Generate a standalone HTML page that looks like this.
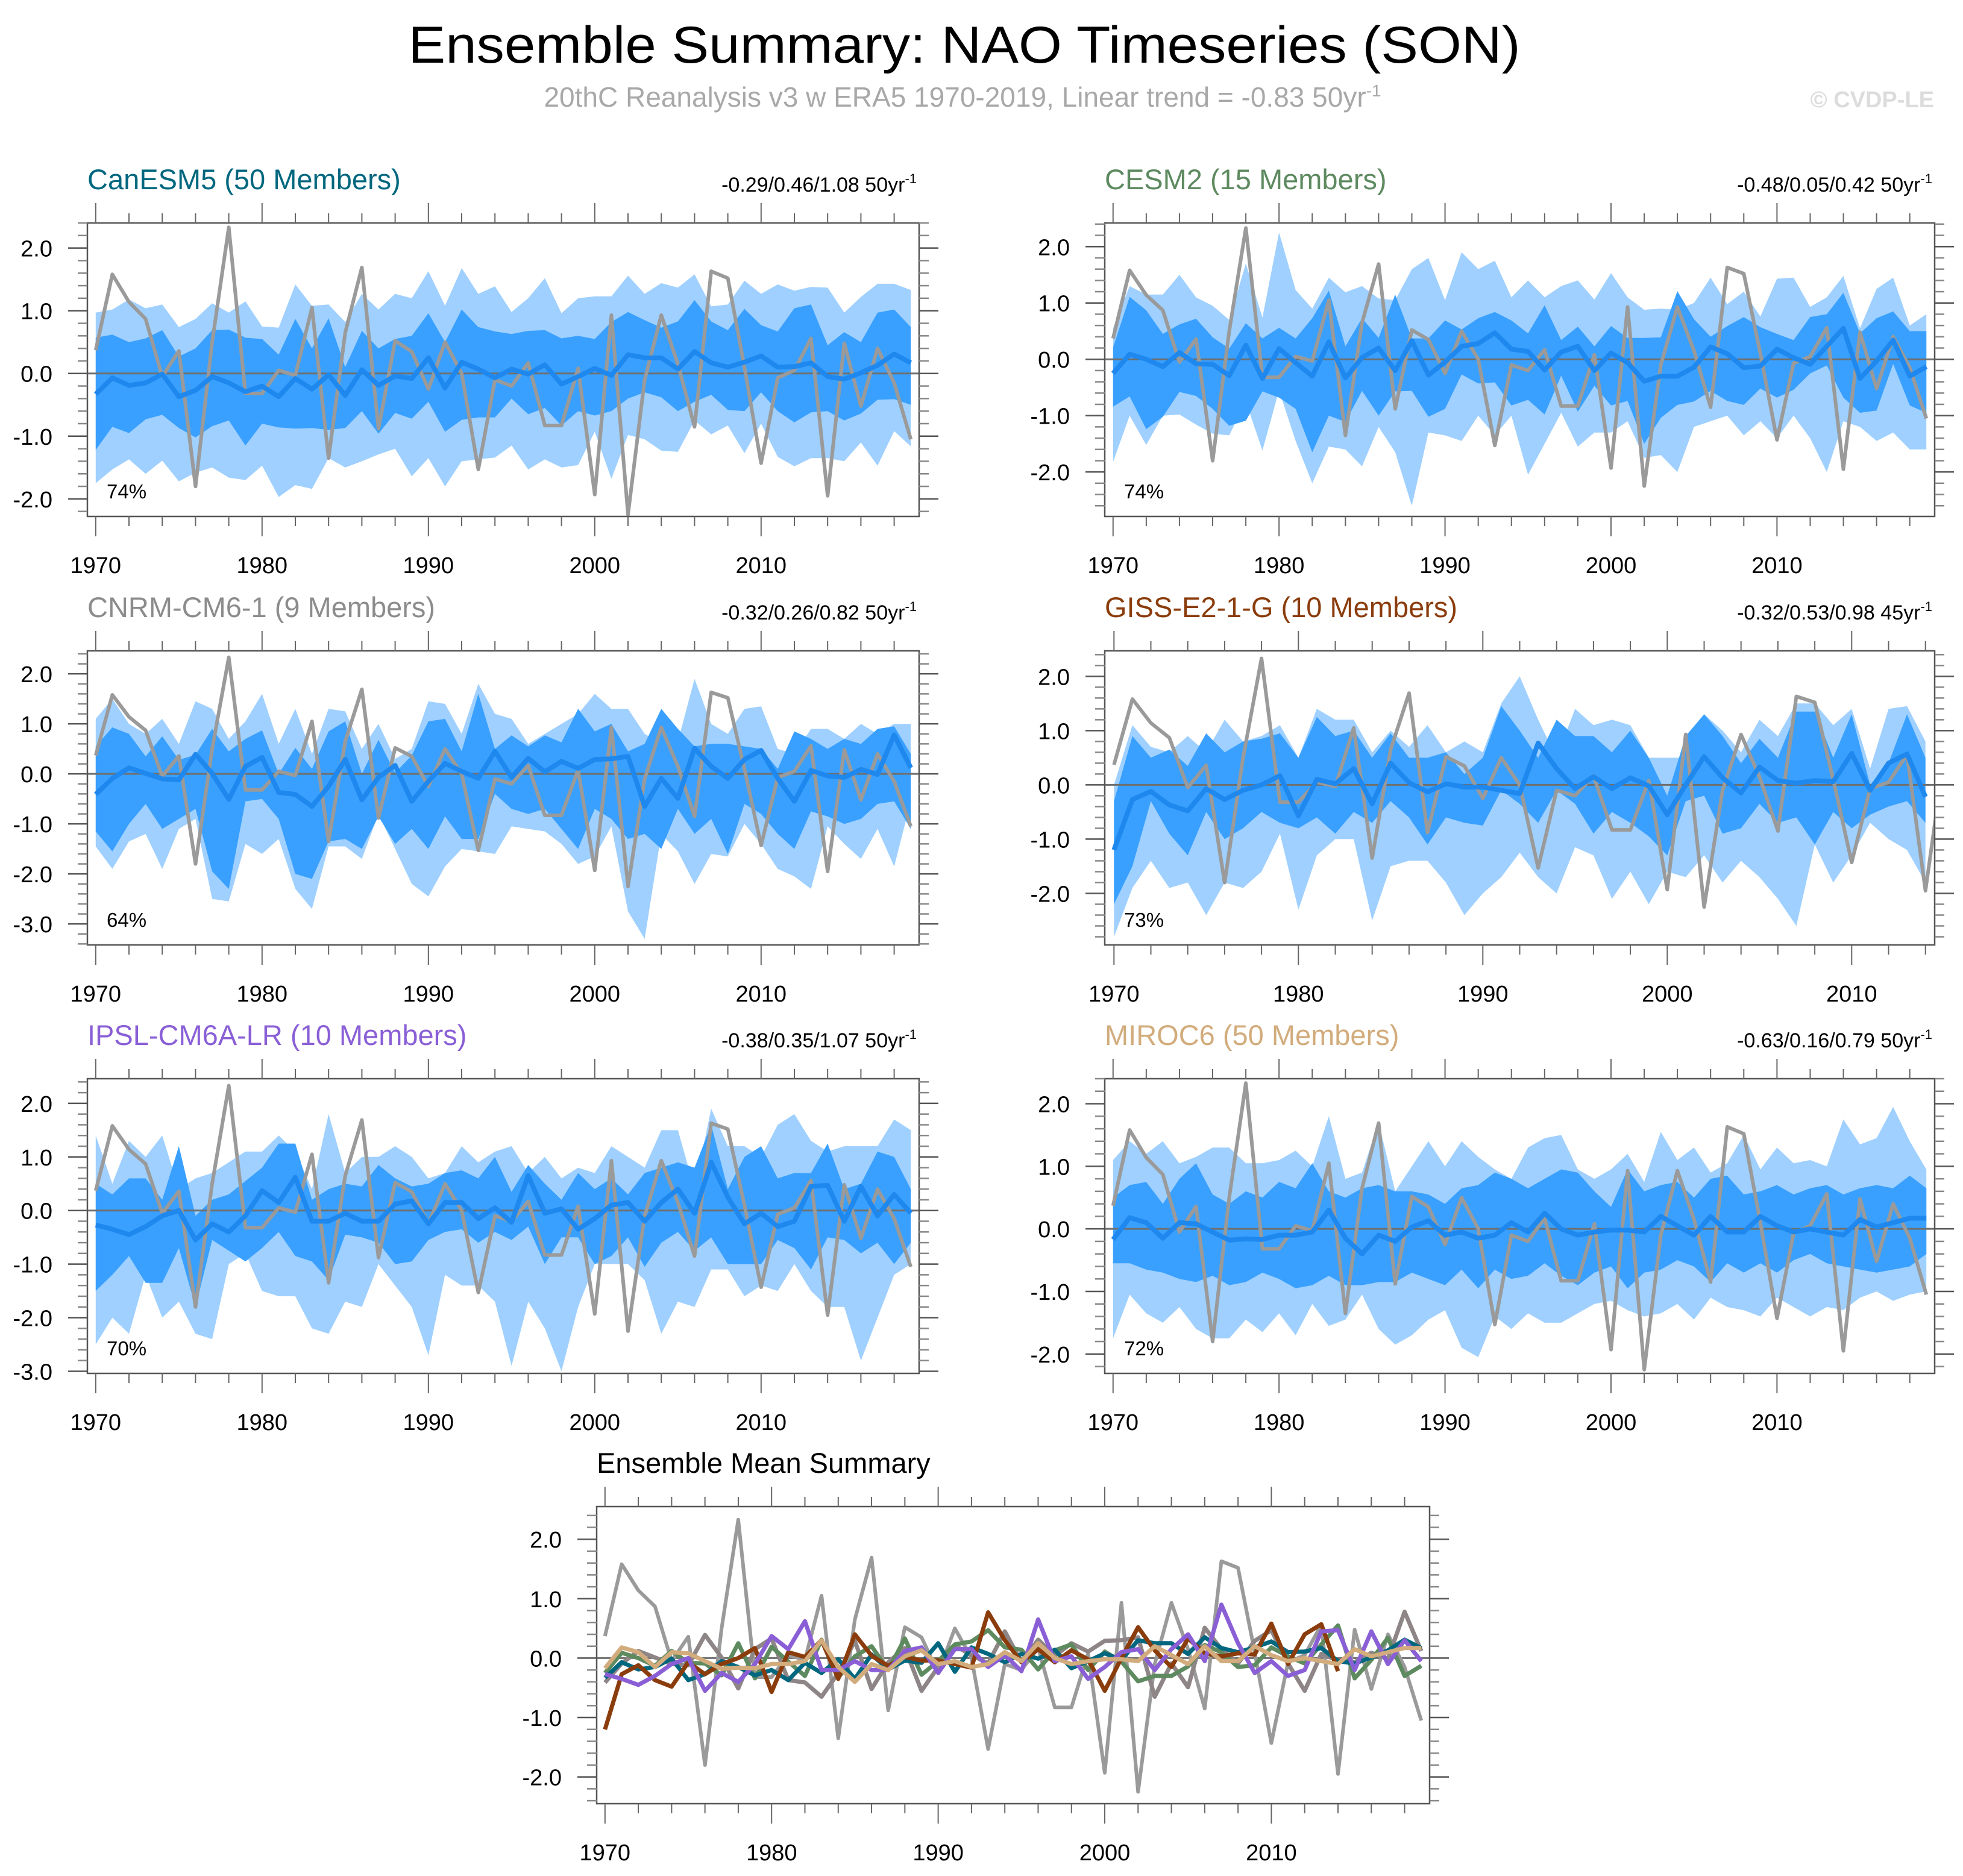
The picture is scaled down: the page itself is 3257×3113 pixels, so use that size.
<!DOCTYPE html>
<html><head><meta charset="utf-8"><title>Ensemble Summary: NAO Timeseries (SON)</title>
<style>html,body{margin:0;padding:0;background:#fff}svg{display:block}text{font-family:"Liberation Sans",sans-serif}</style>
</head><body>
<svg id="chart" xmlns="http://www.w3.org/2000/svg" width="3257" height="3113" viewBox="0 0 3257 3113">
<text x="1600" y="104" font-size="86" text-anchor="middle" textLength="1845" lengthAdjust="spacingAndGlyphs">Ensemble Summary: NAO Timeseries (SON)</text>
<text x="1597" y="177" font-size="46" fill="#a8a8a8" text-anchor="middle">20thC Reanalysis v3 w ERA5 1970-2019, Linear trend = -0.83 50yr<tspan dy="-17" font-size="28">-1</tspan></text>
<text x="3209" y="178" font-size="38" font-weight="bold" fill="#dcdcdc" text-anchor="end">© CVDP-LE</text>
</svg>
<script>
const years = [];
for (let y = 1970; y <= 2019; y++) years.push(y);
const obs = [0.37,1.58,1.14,0.87,-0.05,0.36,-1.8,0.5,2.33,-0.32,
-0.32,0.05,-0.03,1.05,-1.35,0.65,1.69,-0.88,0.52,0.35,
-0.25,0.5,0.0,-1.53,-0.1,-0.2,0.17,-0.83,-0.83,0.08,
-1.93,0.93,-2.25,-0.1,0.93,0.15,-0.85,1.63,1.52,0.1,
-1.43,-0.07,0.05,0.56,-1.95,0.48,-0.52,0.4,-0.15,-1.05];

const canMean=[-0.33,-0.07,-0.19,-0.15,-0.01,-0.37,-0.27,-0.05,-0.15,-0.29,-0.2,-0.37,-0.08,-0.25,-0.02,-0.35,0.06,-0.19,-0.04,-0.08,0.25,-0.23,0.18,0.07,-0.07,0.07,-0.01,0.14,-0.17,-0.05,0.08,-0.03,0.3,0.25,0.25,0.07,0.35,0.17,0.1,0.18,0.28,0.1,0.11,0.17,-0.05,-0.09,0.01,0.13,0.31,0.17];
const canInHi=[0.57,0.62,0.5,0.56,0.69,0.27,0.4,0.69,0.7,0.57,0.55,0.3,0.87,0.4,0.88,0.1,0.68,0.4,0.55,0.6,0.96,0.5,1.02,0.74,0.67,0.63,0.68,0.69,0.56,0.6,0.55,0.82,0.98,0.85,0.73,0.83,1.17,0.83,0.69,1.03,0.77,0.67,1.04,1.1,0.45,0.66,0.5,0.97,1.02,0.74];
const canInLo=[-1.22,-0.85,-0.95,-0.73,-0.66,-0.87,-1.02,-0.84,-0.75,-1.15,-0.8,-0.86,-0.88,-0.87,-0.9,-0.87,-0.6,-0.96,-0.63,-0.72,-0.45,-0.93,-0.74,-0.7,-0.7,-0.4,-0.65,-0.55,-0.83,-0.6,-0.67,-0.6,-0.4,-0.3,-0.38,-0.6,-0.45,-0.34,-0.58,-0.6,-0.3,-0.6,-0.78,-0.62,-0.6,-0.75,-0.64,-0.42,-0.41,-0.5];
const canOutHi=[0.97,1.02,1.18,1.04,1.1,0.74,0.87,1.12,0.97,1.15,0.75,0.73,1.42,1.08,1.1,0.82,1.27,1.02,1.27,1.2,1.63,1.08,1.68,1.27,1.39,0.98,1.2,1.52,0.96,1.2,1.23,1.23,1.56,1.27,1.44,1.37,1.58,1.07,1.1,1.48,1.27,1.42,1.32,1.38,1.37,0.97,1.22,1.43,1.43,1.33];
const canOutLo=[-1.75,-1.53,-1.37,-1.6,-1.39,-1.72,-1.58,-1.5,-1.66,-1.7,-1.47,-1.97,-1.78,-1.84,-1.35,-1.5,-1.4,-1.29,-1.2,-1.64,-1.35,-1.8,-1.4,-1.37,-1.34,-1.15,-1.53,-1.37,-1.5,-1.46,-0.93,-1.68,-0.98,-1.05,-1.23,-1.25,-0.75,-0.97,-0.83,-1.27,-0.8,-1.33,-1.48,-1.35,-1.35,-1.4,-1.1,-1.47,-0.92,-1.16];

const cesmMean=[-0.25,0.09,0,-0.13,0.12,-0.08,-0.09,-0.29,0.25,-0.34,0.19,-0.06,-0.3,0.31,-0.33,0.03,0.2,-0.2,0.33,-0.28,-0.05,0.23,0.28,0.47,0.18,0.14,-0.19,0.13,0.23,-0.2,0.11,-0.06,-0.39,-0.3,-0.3,-0.14,0.22,0.1,-0.15,-0.12,0.18,0.03,-0.09,0.23,0.55,-0.34,-0.03,0.34,-0.3,-0.13];
const cesmInHi=[0.21,1.11,0.87,0.45,0.62,0.72,0.39,0.19,0.64,0.37,0.56,0.37,0.73,1.22,0.23,0.73,0.38,1.15,0.37,0.37,0.69,0.53,0.73,0.84,0.69,0.46,0.96,0.34,0.58,0.23,0.59,0.38,0.38,0.39,1.21,0.71,0.4,0.59,0.75,0.57,0.45,0.34,0.75,0.8,1.18,0.46,0.73,0.85,0.5,0.5];
const cesmInLo=[-0.84,-0.66,-1.24,-1.02,-0.58,-0.65,-0.88,-1.18,-1.09,-0.57,-0.68,-0.88,-1.65,-1.0,-1.11,-0.56,-1.0,-0.57,-0.56,-1.02,-0.88,-0.27,-0.43,-0.41,-0.82,-0.72,-0.98,-0.29,-0.93,-0.47,-0.82,-0.74,-1.5,-1.04,-0.81,-0.75,-0.56,-0.74,-0.81,-0.52,-0.68,-0.54,-0.25,-0.11,-0.68,-0.95,-0.91,-0.08,-0.82,-0.95];
const cesmOutHi=[0.55,1.3,1.15,1.15,1.5,1.1,0.95,0.7,1.7,0.74,2.25,1.23,0.9,1.45,1.19,1.3,1.08,1.05,1.6,1.8,1.05,1.9,1.6,1.75,1.1,1.4,1.1,1.3,1.4,1.06,1.53,1.1,0.88,0.9,0.88,1.0,1.45,0.98,1.2,0.76,1.43,1.45,0.93,1.1,1.48,0.55,1.25,1.45,0.6,0.8];
const cesmOutLo=[-1.82,-1.0,-1.52,-1.0,-0.98,-1.16,-1.32,-1.35,-0.75,-1.62,-0.55,-1.45,-2.2,-1.55,-1.6,-1.9,-1.2,-1.65,-2.6,-1.3,-1.35,-1.45,-1.0,-1.35,-1.0,-2.05,-1.5,-0.95,-1.55,-1.3,-1.3,-1.1,-1.75,-1.7,-2.0,-1.2,-1.1,-1.0,-1.35,-1.1,-1.4,-1.0,-1.4,-2.0,-1.1,-1.2,-1.45,-1.3,-1.6,-1.6];

const cnrmMean=[-0.41,-0.09,0.12,0.01,-0.1,-0.12,0.39,0.01,-0.51,0.15,0.33,-0.37,-0.41,-0.65,-0.25,0.29,-0.52,-0.07,0.17,-0.55,-0.15,0.21,0.05,-0.09,0.45,-0.07,0.31,0.04,0.25,0.11,0.29,0.3,0.35,-0.65,-0.09,-0.49,0.51,0.15,-0.09,0.29,0.47,-0.09,-0.55,0.07,-0.04,-0.07,0.09,-0.01,0.78,0.12];
const cnrmInHi=[0.55,0.93,0.8,0.35,0.75,0.28,0.38,0.9,0.45,0.7,0.87,0.0,0.52,0.1,0.85,1.05,0.0,0.68,0.02,0.37,1.05,1.1,0.45,1.6,0.5,0.77,0.55,0.77,0.63,1.3,0.85,1.0,0.45,0.6,1.3,0.9,0.55,0.6,0.6,0.55,0.5,0.1,0.85,0.7,0.5,0.7,0.6,0.9,0.95,0.4];
const cnrmInLo=[-1.15,-1.55,-1.0,-0.6,-1.1,-0.9,-0.7,-1.95,-2.3,-0.55,-0.5,-0.9,-2.0,-2.1,-1.35,-1.3,-1.5,-0.85,-1.4,-1.1,-1.5,-0.85,-1.3,-1.3,-0.4,-0.7,-0.8,-0.7,-1.1,-1.5,-0.7,-0.9,-1.3,-1.2,-1.5,-0.7,-1.2,-0.9,-1.6,-0.6,-0.8,-1.2,-1.5,-0.75,-0.85,-1.0,-0.9,-0.6,-0.55,-1.1];
const cnrmOutHi=[1.1,1.5,1.0,0.8,1.1,0.6,1.45,1.3,0.7,1.05,1.6,0.6,1.3,0.4,1.3,1.25,0.5,1.0,0.3,0.5,1.45,1.4,0.8,1.8,1.2,1.1,0.6,0.8,1.0,1.2,1.6,1.3,1.3,0.8,0.6,0.65,1.9,1.0,0.8,1.3,1.35,0.5,0.4,0.9,0.9,0.7,1.0,0.8,1.0,1.0];
const cnrmOutLo=[-1.45,-1.9,-1.35,-1.2,-1.9,-1.1,-0.9,-2.5,-2.55,-1.4,-1.6,-1.3,-2.3,-2.7,-1.45,-1.45,-1.7,-0.8,-1.5,-2.2,-2.45,-1.85,-1.5,-1.55,-1.6,-1.05,-1.1,-1.15,-1.4,-1.8,-1.65,-1.05,-2.75,-3.3,-1.2,-1.55,-2.2,-1.6,-1.65,-1.0,-1.4,-1.9,-2.05,-2.3,-1.05,-1.4,-1.7,-1.1,-1.85,-0.55];

const gissMean=[-1.2,-0.27,-0.12,-0.37,-0.48,-0.07,-0.27,-0.1,0.0,0.17,-0.57,0.1,0.02,0.3,-0.35,0.4,0.04,-0.13,0.02,-0.04,-0.04,-0.1,-0.16,0.77,0.3,-0.07,0.15,-0.07,0.13,-0.02,-0.55,0.0,0.52,0.13,-0.15,0.33,0.08,0.03,0.08,0.06,0.58,-0.1,0.4,0.57,-0.22];
const gissInHi=[-0.3,0.9,0.5,0.65,0.35,0.95,0.6,0.8,0.85,0.95,0.5,1.25,0.9,1.0,0.5,0.95,0.5,0.5,0.6,0.2,0.5,1.45,1.0,0.5,1.2,0.9,0.9,0.6,1.0,0.5,-0.2,0.9,1.3,0.9,0.4,0.85,0.5,1.35,1.35,0.5,1.3,0.0,0.4,1.3,0.5];
const gissInLo=[-2.2,-1.5,-0.3,-0.9,-1.3,-0.5,-1.0,-0.8,-0.5,-0.7,-0.8,-0.6,-0.9,-0.5,-0.7,-0.3,-0.6,-1.1,-0.6,-0.7,-0.75,-0.1,-0.35,-0.7,-0.1,-0.35,-0.9,-0.5,-0.7,-0.95,-1.3,-0.3,-0.2,-0.9,-0.8,-0.35,-0.7,-0.6,-1.1,-0.5,-0.8,-0.55,-0.4,-0.3,-0.7];
const gissOutHi=[0.0,1.1,0.7,0.6,0.9,0.6,1.2,0.8,0.9,1.1,0.5,1.4,1.2,1.2,0.6,1.0,0.7,1.1,0.6,0.8,0.6,1.5,2.0,1.2,0.5,1.4,1.1,1.2,1.1,0.5,0.5,0.5,1.3,1.0,0.6,1.2,0.9,1.5,1.5,1.1,1.4,0.3,1.4,1.45,0.8];
const gissOutLo=[-2.8,-1.9,-1.4,-1.9,-1.8,-2.4,-1.8,-1.9,-1.6,-0.9,-2.3,-1.3,-1.0,-1.0,-2.5,-1.5,-1.4,-1.4,-1.8,-2.4,-2.0,-1.7,-1.25,-1.7,-2.0,-1.15,-1.3,-2.1,-1.6,-2.2,-1.6,-1.7,-1.3,-1.8,-1.4,-1.7,-2.1,-2.6,-1.1,-1.8,-1.3,-0.7,-1.0,-1.2,-1.8];

const ipslMean=[-0.27,-0.35,-0.45,-0.3,-0.1,0.0,-0.55,-0.25,-0.4,-0.1,0.37,0.15,0.62,-0.2,-0.2,-0.05,-0.2,-0.2,0.12,0.18,-0.25,0.15,0.15,-0.15,0.05,-0.22,0.65,-0.05,0.03,-0.35,-0.15,0.1,0.15,-0.2,0.15,0.4,-0.05,0.9,0.25,-0.25,-0.05,-0.3,-0.2,0.45,0.47,-0.2,0.45,-0.1,0.3,-0.05];
const ipslInHi=[0.5,0.3,0.6,0.6,0.2,1.2,-0.1,0.2,0.3,0.55,0.8,1.25,1.25,0.2,0.4,0.5,0.45,0.85,0.6,0.45,0.5,0.7,0.75,0.6,1.0,0.35,0.85,0.5,0.2,0.7,0.4,0.6,0.3,0.7,0.8,0.9,0.8,1.6,0.4,1.0,1.2,0.6,0.7,0.7,1.25,0.4,0.5,1.1,1.0,0.4];
const ipslInLo=[-1.5,-1.2,-0.85,-1.35,-1.35,-0.7,-1.8,-0.55,-0.75,-0.95,-0.7,-0.4,-0.85,-0.95,-1.3,-0.45,-0.5,-0.6,-1.0,-0.95,-0.55,-0.4,-0.35,-0.6,-0.4,-0.55,-0.3,-1.0,-0.5,-0.5,-1.0,-0.85,-0.5,-1.05,-0.6,-0.4,-0.75,-0.5,-1.0,-1.0,-1.0,-0.55,-0.7,-1.1,-0.5,-0.55,-0.8,-0.6,-1.0,-0.6];
const ipslOutHi=[1.4,0.5,1.3,1.0,1.4,0.4,0.6,0.7,0.9,1.1,1.1,1.4,1.1,0.4,1.8,0.7,1.0,1.0,1.2,1.0,0.6,0.7,1.2,0.9,1.1,1.2,0.7,1.0,0.6,0.8,0.7,1.2,1.0,0.8,1.5,1.5,0.4,1.9,1.2,1.2,1.0,1.6,1.8,1.3,1.1,1.2,1.2,1.2,1.7,1.5];
const ipslOutLo=[-2.5,-2.0,-2.3,-1.2,-2.0,-1.7,-2.3,-2.4,-1.0,-0.8,-1.5,-1.6,-1.6,-2.2,-2.3,-1.7,-1.8,-1.0,-1.4,-1.8,-2.7,-1.2,-1.4,-1.4,-1.7,-2.9,-1.7,-2.2,-3.0,-1.8,-1.0,-1.0,-1.0,-1.3,-2.3,-1.7,-1.8,-1.1,-1.1,-1.6,-1.4,-1.5,-1.0,-1.5,-1.8,-1.8,-2.8,-2.0,-1.2,-1.0];

const mirocMean=[-0.17,0.18,0.1,-0.15,0.1,0.08,-0.05,-0.18,-0.16,-0.17,-0.1,-0.1,-0.05,0.3,-0.15,-0.4,-0.1,-0.2,0.03,0.13,-0.1,-0.05,-0.15,-0.1,0.1,-0.05,0.25,0.0,-0.1,-0.05,-0.02,-0.02,-0.05,0.2,0.05,-0.1,0.2,-0.05,-0.05,0.2,0.05,-0.05,0.0,-0.05,-0.1,0.15,0.03,0.1,0.17,0.17];
const mirocInHi=[0.5,0.7,0.75,0.4,0.8,1.05,0.55,0.4,0.6,0.5,0.75,0.65,1.05,0.6,0.5,0.65,0.7,0.6,0.6,0.55,0.4,0.65,0.7,0.9,0.8,0.65,0.8,0.95,0.9,0.6,0.35,0.95,0.6,0.7,0.75,0.5,0.8,0.85,0.55,0.6,0.7,0.55,0.65,0.7,0.55,0.65,0.7,0.65,0.85,0.65];
const mirocInLo=[-0.55,-0.55,-0.65,-0.7,-0.8,-0.85,-0.75,-0.9,-0.85,-0.7,-0.8,-0.95,-0.9,-0.75,-0.9,-0.9,-0.85,-0.85,-0.7,-0.8,-0.9,-0.65,-0.95,-0.65,-0.8,-0.75,-0.55,-0.75,-0.9,-0.7,-0.6,-0.95,-0.7,-0.65,-0.5,-0.6,-0.85,-0.55,-0.7,-0.55,-0.7,-0.5,-0.4,-0.55,-0.6,-0.65,-0.7,-0.65,-0.6,-0.4];
const mirocOutHi=[1.1,1.4,1.2,1.4,1.05,1.15,1.3,1.3,1.05,1.05,1.1,1.25,1.0,1.8,0.8,0.9,1.7,0.6,1.0,1.4,1.0,1.4,1.15,0.95,0.8,1.3,1.45,1.5,0.95,0.8,0.95,1.2,0.75,1.55,1.1,1.3,0.9,1.05,1.5,0.95,1.3,1.05,1.1,1.0,1.75,1.35,1.45,1.95,1.4,0.95];
const mirocOutLo=[-1.75,-1.05,-1.35,-1.5,-1.25,-1.6,-1.75,-1.75,-1.45,-1.65,-1.35,-1.7,-1.2,-1.55,-1.45,-1.05,-1.6,-1.85,-1.7,-1.45,-1.3,-1.9,-2.05,-1.4,-1.6,-1.35,-1.5,-1.5,-1.35,-1.2,-1.15,-1.3,-1.4,-1.35,-1.2,-1.45,-1.1,-1.25,-1.3,-1.4,-1.1,-1.25,-1.4,-1.25,-1.3,-1.1,-1.0,-1.15,-1.05,-1.0];

const yTicksA = [2, 1, 0, -1, -2];
const yTicksB = [2, 1, 0, -1, -2, -3];
const xTickYears = [1970, 1980, 1990, 2000, 2010];

const svg = document.getElementById('chart');
const NS = 'http://www.w3.org/2000/svg';
function mk(tag, attrs, parent) {
  const e = document.createElementNS(NS, tag);
  for (const k in attrs) e.setAttribute(k, attrs[k]);
  (parent || svg).appendChild(e);
  return e;
}

function panel(cfg) {
  const g = mk('g', {});
  
  
  const L = cfg.x0, R = cfg.x1, T = cfg.y0, B = cfg.y1;
  const xs = v => L + (v - cfg.xmin) / (cfg.xmax - cfg.xmin) * (R - L);
  const ys = v => T + (cfg.ymax - v) / (cfg.ymax - cfg.ymin) * (B - T);
  const clipId = 'clip-' + cfg.name;
  const cp = mk('clipPath', {id: clipId}, g);
  mk('rect', {x: L, y: T, width: R - L, height: B - T}, cp);
  const plot = mk('g', {'clip-path': 'url(#' + clipId + ')'}, g);
  const n = cfg.n;
  const yr = years.slice(0, n);
  function band(hi, lo, color, nm) {
    let d = '';
    for (let i = 0; i < n; i++) d += (i ? 'L' : 'M') + xs(yr[i]).toFixed(1) + ',' + ys(hi[i]).toFixed(1);
    for (let i = n - 1; i >= 0; i--) d += 'L' + xs(yr[i]).toFixed(1) + ',' + ys(lo[i]).toFixed(1);
    const p = mk('path', {d: d + 'Z', fill: color}, plot);
    
    
  }
  function line(vals, color, w, nm, cnt) {
    let d = '';
    for (let i = 0; i < cnt; i++) d += (i ? 'L' : 'M') + xs(years[i]).toFixed(1) + ',' + ys(vals[i]).toFixed(1);
    const p = mk('path', {d: d, fill: 'none', stroke: color, 'stroke-width': w, 'stroke-linejoin': 'round'}, plot);
    
    
  }
  if (cfg.outHi) band(cfg.outHi, cfg.outLo, '#9fd0ff', 'outer-spread-band');
  if (cfg.inHi) band(cfg.inHi, cfg.inLo, '#39a0ff', 'inner-spread-band');
  const z = mk('line', {x1: L, x2: R, y1: ys(0), y2: ys(0), stroke: '#6f6f6f', 'stroke-width': 3}, plot);
  
  
  if (cfg.summary) {
    line(obs, '#9a9a9a', 6, 'observed-nao-line', 50);
    cfg.summary.forEach(s => line(s.vals, s.color, 7, s.nm, s.vals.length));
  } else {
    line(obs, '#9a9a9a', 6, 'observed-nao-line', 50);
    line(cfg.mean, '#1e88ee', 8, 'ensemble-mean-line', n);
  }
  const fr = mk('rect', {x: L, y: T, width: R - L, height: B - T, fill: 'none', stroke: '#555', 'stroke-width': 2.5}, g);
  
  
  for (let yv = 1970; yv <= cfg.xmax; yv += 2) {
    const major = (yv % 10 === 0);
    const len = major ? 33 : 16;
    const x = xs(yv);
    mk('line', {x1: x, x2: x, y1: T, y2: T - len, stroke: '#666', 'stroke-width': 2}, g);
    mk('line', {x1: x, x2: x, y1: B, y2: B + len, stroke: '#666', 'stroke-width': 2}, g);
  }
  xTickYears.forEach(yv => {
    if (yv > cfg.xmax) return;
    const t = mk('text', {x: xs(yv), y: B + 94, 'font-size': 38, 'text-anchor': 'middle'}, g);
    t.textContent = String(yv);
    
    
  });
  for (let k = Math.ceil(cfg.ymin * 5); k <= Math.floor(cfg.ymax * 5); k++) {
    const v = k / 5, y = ys(v);
    const major = (k % 5 === 0);
    const len = major ? 32 : 16;
    mk('line', {x1: L, x2: L - len, y1: y, y2: y, stroke: major ? '#555' : '#888', 'stroke-width': 2.5}, g);
    mk('line', {x1: R, x2: R + len, y1: y, y2: y, stroke: major ? '#555' : '#888', 'stroke-width': 2.5}, g);
  }
  cfg.yticks.forEach(v => {
    const t = mk('text', {x: L - 58, y: ys(v) + 14, 'font-size': 38, 'text-anchor': 'end'}, g);
    t.textContent = v.toFixed(1);
    
    
  });
  const tt = mk('text', {x: L, y: T - 56, 'font-size': 47, fill: cfg.titleColor}, g);
  tt.textContent = cfg.title;
  
  
  if (cfg.trend) {
    const tr = mk('text', {x: R - 4, y: T - 52, 'font-size': 34, 'text-anchor': 'end'}, g);
    
    
    tr.appendChild(document.createTextNode(cfg.trend));
    const sp = mk('tspan', {dy: -14, 'font-size': 22}, tr);
    sp.textContent = '-1';
  }
  if (cfg.pct) {
    const pc = mk('text', {x: L + 32, y: B - 30, 'font-size': 33}, g);
    pc.textContent = cfg.pct;
    
    
  }
}

const LX = [145, 1525], RX = [1833, 3210];
const R1 = [370, 857], R2 = [1080, 1568], R3 = [1790, 2279];
panel({name:'canesm5-panel', x0:LX[0], x1:LX[1], y0:R1[0], y1:R1[1], xmin:1969.5, xmax:2019.5, ymin:-2.28, ymax:2.40, n:50, yticks:yTicksA,
  mean:canMean, inHi:canInHi, inLo:canInLo, outHi:canOutHi, outLo:canOutLo, title:'CanESM5 (50 Members)', titleColor:'#00677f', trend:'-0.29/0.46/1.08 50yr', pct:'74%'});
panel({name:'cesm2-panel', x0:RX[0], x1:RX[1], y0:R1[0], y1:R1[1], xmin:1969.5, xmax:2019.5, ymin:-2.79, ymax:2.42, n:50, yticks:yTicksA,
  mean:cesmMean, inHi:cesmInHi, inLo:cesmInLo, outHi:cesmOutHi, outLo:cesmOutLo, title:'CESM2 (15 Members)', titleColor:'#5e8a60', trend:'-0.48/0.05/0.42 50yr', pct:'74%'});
panel({name:'cnrm-cm6-1-panel', x0:LX[0], x1:LX[1], y0:R2[0], y1:R2[1], xmin:1969.5, xmax:2019.5, ymin:-3.42, ymax:2.46, n:50, yticks:yTicksB,
  mean:cnrmMean, inHi:cnrmInHi, inLo:cnrmInLo, outHi:cnrmOutHi, outLo:cnrmOutLo, title:'CNRM-CM6-1 (9 Members)', titleColor:'#8c8c8c', trend:'-0.32/0.26/0.82 50yr', pct:'64%'});
panel({name:'giss-e2-1-g-panel', x0:RX[0], x1:RX[1], y0:R2[0], y1:R2[1], xmin:1969.5, xmax:2014.5, ymin:-2.95, ymax:2.47, n:45, yticks:yTicksA,
  mean:gissMean, inHi:gissInHi, inLo:gissInLo, outHi:gissOutHi, outLo:gissOutLo, title:'GISS-E2-1-G (10 Members)', titleColor:'#8b3c0c', trend:'-0.32/0.53/0.98 45yr', pct:'73%'});
panel({name:'ipsl-cm6a-lr-panel', x0:LX[0], x1:LX[1], y0:R3[0], y1:R3[1], xmin:1969.5, xmax:2019.5, ymin:-3.04, ymax:2.46, n:50, yticks:yTicksB,
  mean:ipslMean, inHi:ipslInHi, inLo:ipslInLo, outHi:ipslOutHi, outLo:ipslOutLo, title:'IPSL-CM6A-LR (10 Members)', titleColor:'#8a5fd6', trend:'-0.38/0.35/1.07 50yr', pct:'70%'});
panel({name:'miroc6-panel', x0:RX[0], x1:RX[1], y0:R3[0], y1:R3[1], xmin:1969.5, xmax:2019.5, ymin:-2.31, ymax:2.40, n:50, yticks:yTicksA,
  mean:mirocMean, inHi:mirocInHi, inLo:mirocInLo, outHi:mirocOutHi, outLo:mirocOutLo, title:'MIROC6 (50 Members)', titleColor:'#d2ac7c', trend:'-0.63/0.16/0.79 50yr', pct:'72%'});
panel({name:'ensemble-mean-summary-panel', x0:990, x1:2372, y0:2500, y1:2993, xmin:1969.5, xmax:2019.5, ymin:-2.45, ymax:2.55, n:50, yticks:yTicksA,
  title:'Ensemble Mean Summary', titleColor:'#000',
  summary:[
    {vals:cnrmMean, color:'#8e8587', nm:'cnrm-cm6-1-mean-line'},
    {vals:cesmMean, color:'#5e8a60', nm:'cesm2-mean-line'},
    {vals:canMean, color:'#00677f', nm:'canesm5-mean-line'},
    {vals:gissMean, color:'#8b3c0c', nm:'giss-e2-1-g-mean-line'},
    {vals:ipslMean, color:'#8a5fd6', nm:'ipsl-cm6a-lr-mean-line'},
    {vals:mirocMean, color:'#d2ac7c', nm:'miroc6-mean-line'}
  ]});
</script>
</body></html>
